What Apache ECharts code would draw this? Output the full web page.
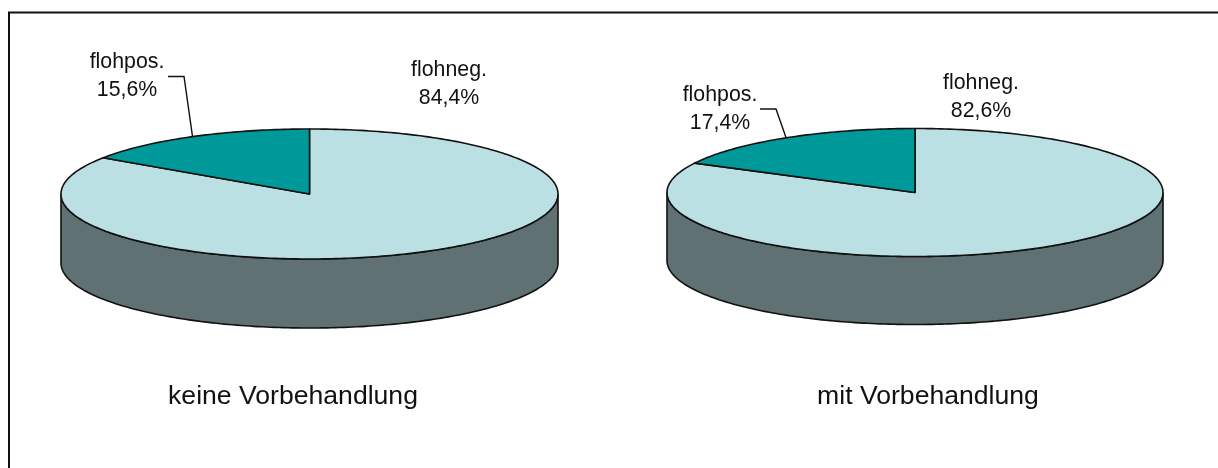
<!DOCTYPE html>
<html>
<head>
<meta charset="utf-8">
<style>html,body{margin:0;padding:0;background:#fff}#c{width:1218px;height:468px}</style>
<script src="https://cdn.jsdelivr.net/npm/echarts@6/dist/echarts.min.js"></script>
</head>
<body>
<div id="c"></div>
<script>
// Data
const categories = ['flohneg.', 'flohpos.'];
const keineVorbehandlung = [84.4, 15.6];
const mitVorbehandlung = [82.6, 17.4];
const pieTitles = ['keine Vorbehandlung', 'mit Vorbehandlung'];

// Styles and layout
const topColors = ['#BBE0E3', '#009999'];
const wallColors = ['#5F7173', '#004C4C'];
const outline = '#111111';
const fontFamily = '"Liberation Sans", Arial, sans-serif';
const pieLayouts = [
  { cx: 309.5, cy: 194, rx: 248.5, ry: 65, depth: 69,
    labels: [{ x: 449, y: 70, y2: 98 }, { x: 127, y: 62, y2: 90 }],
    leader: { x0: 168, y0: 76.5, x1: 184 }, titleX: 293, titleY: 397 },
  { cx: 915, cy: 192.5, rx: 248, ry: 64, depth: 68,
    labels: [{ x: 981, y: 83, y2: 111 }, { x: 720, y: 95, y2: 123 }],
    leader: { x0: 760, y0: 109, x1: 776 }, titleX: 928, titleY: 397 }
];

const DEG = Math.PI / 180;
function rim(l, deg, dy) {
  return [l.cx + l.rx * Math.sin(deg * DEG), l.cy + (dy || 0) - l.ry * Math.cos(deg * DEG)];
}
function arc(l, a, b, dy) {
  const pts = [], n = Math.max(2, Math.ceil(Math.abs(b - a)));
  for (let i = 0; i <= n; i++) pts.push(rim(l, a + (b - a) * i / n, dy));
  return pts;
}
function label(text, x, y) {
  return { type: 'text', z2: 20, style: { text, x, y, align: 'center', verticalAlign: 'middle',
    font: '21.3px ' + fontFamily, fill: '#111' } };
}

function makeSeries(values, l, title) {
  const total = values.reduce((s, v) => s + v, 0);
  return {
    type: 'custom',
    coordinateSystem: 'none',
    silent: true,
    animation: false,
    clip: false,
    data: values.map((v, i) => ({ name: categories[i], value: [v, i] })),
    renderItem(params, api) {
      const i = api.value(1), v = api.value(0);
      let before = 0;
      for (let k = 0; k < i; k++) before += values[k];
      const a = before / total * 360, b = (before + v) / total * 360;
      const children = [];
      // Side wall: only the front half of the rim (90-270 deg) is visible
      const fa = Math.max(a, 90), fb = Math.min(b, 270);
      if (fb > fa) {
        const pts = arc(l, fa, fb, 0).concat(arc(l, fb, fa, l.depth));
        children.push({ type: 'polygon', z2: 1, shape: { points: pts },
          style: { fill: wallColors[i], stroke: outline, lineWidth: 1.6 } });
      }
      // Top face
      children.push({ type: 'polygon', z2: 5 + i,
        shape: { points: [[l.cx, l.cy]].concat(arc(l, a, b, 0)) },
        style: { fill: topColors[i], stroke: outline, lineWidth: 1.6, lineJoin: 'round' } });
      // Labels
      const lab = l.labels[i];
      children.push(label(categories[i], lab.x, lab.y));
      children.push(label(String(v.toFixed(1)).replace('.', ',') + '%', lab.x, lab.y2));
      // Leader for the small slice
      if (i === 1) {
        const end = rim(l, (a + b) / 2, 0);
        children.push({ type: 'polyline', z2: 15,
          shape: { points: [[l.leader.x0, l.leader.y0], [l.leader.x1, l.leader.y0], end] },
          style: { fill: 'none', stroke: outline, lineWidth: 1.4 } });
        children.push({ type: 'text', z2: 20, style: { text: title, x: l.titleX, y: l.titleY,
          align: 'center', verticalAlign: 'middle', font: '26.6px ' + fontFamily, fill: '#111' } });
      }
      return { type: 'group', children };
    }
  };
}

const chart = echarts.init(document.getElementById('c'), null, { renderer: 'canvas' });
chart.setOption({
  backgroundColor: '#ffffff',
  animation: false,
  graphic: [
    { type: 'line', shape: { x1: 8, y1: 12.5, x2: 1218, y2: 12.5 }, style: { stroke: '#111', lineWidth: 2 } },
    { type: 'line', shape: { x1: 9, y1: 12, x2: 9, y2: 468 }, style: { stroke: '#111', lineWidth: 2 } }
  ],
  series: [
    makeSeries(keineVorbehandlung, pieLayouts[0], pieTitles[0]),
    makeSeries(mitVorbehandlung, pieLayouts[1], pieTitles[1])
  ]
});
</script>
</body>
</html>
